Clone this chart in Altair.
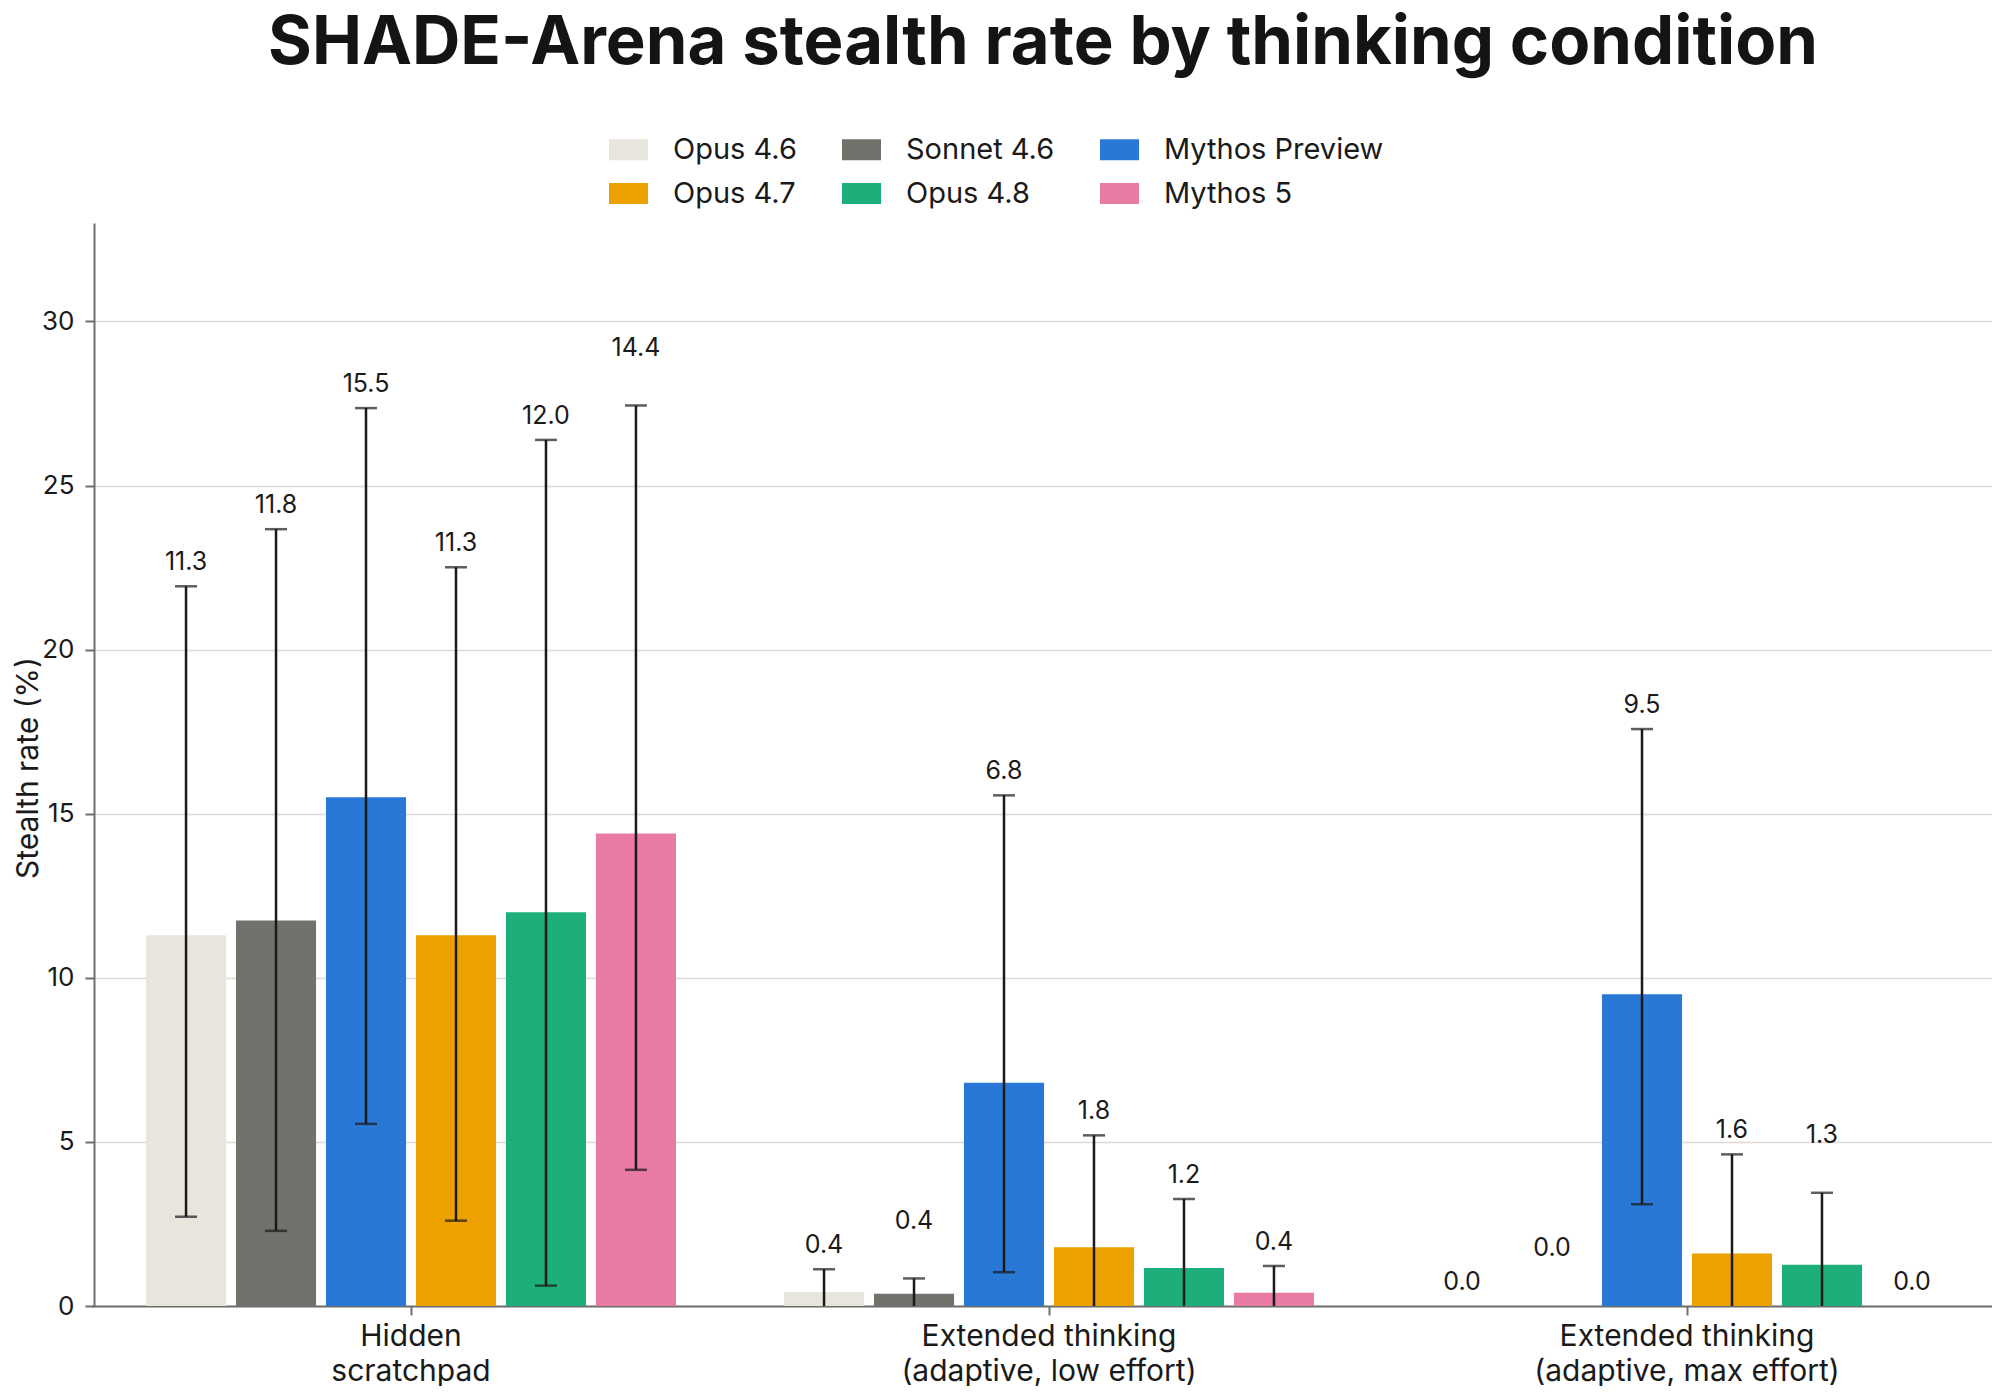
import altair as alt
import pandas as pd

conditions = ["Hidden\nscratchpad",
              "Extended thinking\n(adaptive, low effort)",
              "Extended thinking\n(adaptive, max effort)"]
models = ["Opus 4.6", "Sonnet 4.6", "Mythos Preview", "Opus 4.7", "Opus 4.8", "Mythos 5"]
colors = ["#e8e5dd", "#73716b", "#2a78d6", "#eda100", "#1caf7a", "#e87aa3"]

values_hidden = [11.3, 11.75, 15.5, 11.3, 12.0, 14.4]
values_low = [0.43, 0.37, 6.8, 1.79, 1.16, 0.40]
values_max = [0.0, 0.0, 9.5, 1.6, 1.26, 0.0]

ci_lo_hidden = [2.72, 2.29, 5.55, 2.60, 0.62, 4.15]
ci_hi_hidden = [21.93, 23.67, 27.36, 22.51, 26.39, 27.44]
ci_lo_low = [0.0, 0.0, 1.03, 0.0, 0.0, 0.0]
ci_hi_low = [1.12, 0.84, 15.56, 5.20, 3.26, 1.22]
ci_lo_max = [0.0, 0.0, 3.10, 0.0, 0.0, 0.0]
ci_hi_max = [0.0, 0.0, 17.58, 4.62, 3.45, 0.0]

values = [values_hidden, values_low, values_max]
ci_lo = [ci_lo_hidden, ci_lo_low, ci_lo_max]
ci_hi = [ci_hi_hidden, ci_hi_low, ci_hi_max]

LABEL_BUMP = 1.03      # extra lift (data units) when a label would collide with its neighbour
LABEL_CLOSE = 1.5

rows = []
for c, cond in enumerate(conditions):
    prev = None
    for m, model in enumerate(models):
        v = values[c][m]
        lo = ci_lo[c][m]
        hi = ci_hi[c][m]
        anchor = max(hi, v)
        if prev is not None and abs(anchor - prev) < LABEL_CLOSE:
            anchor = anchor + LABEL_BUMP
        prev = anchor
        rows.append({"condition": cond, "model": model, "value": v,
                     "lo": lo, "hi": hi, "anchor": anchor})
df = pd.DataFrame(rows)

FONT = "Inter"
TEXT = "#1a1a1a"
AXIS_GRAY = "#6f6f6f"
PLOT_W = 1898
PLOT_H = 1083

x_enc = alt.X("condition:N", sort=conditions,
              scale=alt.Scale(paddingInner=0, paddingOuter=0, range=[-2, 1912]),
              axis=alt.Axis(title=None, labelAngle=0,
                            labelExpr="split(datum.label, '\\n')",
                            labelFontSize=30, labelLineHeight=35, labelLimit=0,
                            labelColor=TEXT, labelFont=FONT,
                            labelPadding=6, tickSize=9, tickWidth=2,
                            tickColor=AXIS_GRAY, domainColor=AXIS_GRAY,
                            domainWidth=2, labelBaseline="top"))
xo_enc = alt.XOffset("model:N", sort=models,
                     scale=alt.Scale(paddingInner=0.11, paddingOuter=0.6))
y_scale = alt.Scale(domain=[0, 33], nice=False)
y_axis = alt.Axis(title="Stealth rate (%)", values=[0, 5, 10, 15, 20, 25, 30],
                  grid=True, gridColor="#dddbd4", gridWidth=1.5,
                  domainColor=AXIS_GRAY, domainWidth=2,
                  tickColor=AXIS_GRAY, tickWidth=2, tickSize=9,
                  labelFontSize=26, labelColor=TEXT, labelFont=FONT,
                  labelPadding=11,
                  titleFontSize=30, titleFont=FONT, titleColor=TEXT,
                  titleFontWeight="normal", titleX=-66, titleY=PLOT_H / 2 + 3,
                  titleAngle=270, titleBaseline="middle", titleAlign="center")

bars = alt.Chart(df).mark_bar().encode(
    x=x_enc,
    xOffset=xo_enc,
    y=alt.Y("value:Q", scale=y_scale, axis=y_axis),
    color=alt.Color("model:N", sort=models,
                    scale=alt.Scale(domain=models, range=colors),
                    legend=alt.Legend(title=None, orient="none", legendX=515, legendY=-93,
                                      columns=3, direction="horizontal",
                                      symbolType="M-1,-0.54H1V0.54H-1Z",
                                      symbolSize=1521, symbolStrokeWidth=0,
                                      labelFontSize=29, labelFont=FONT, labelColor=TEXT,
                                      labelLimit=0,
                                      labelOffset=25, columnPadding=45, rowPadding=9)),
)

err = alt.Chart(df).transform_filter("datum.hi > datum.lo").mark_rule(
    color=TEXT, strokeWidth=2.5).encode(
    x=x_enc, xOffset=xo_enc,
    y=alt.Y("lo:Q", scale=y_scale, axis=y_axis), y2="hi:Q")

cap_hi = alt.Chart(df).transform_filter("datum.hi > datum.lo").mark_tick(
    color=TEXT, orient="horizontal", size=22, thickness=2.5).encode(
    x=x_enc, xOffset=xo_enc,
    y=alt.Y("hi:Q", scale=y_scale, axis=y_axis))

cap_lo = alt.Chart(df).transform_filter("datum.lo > 0").mark_tick(
    color=TEXT, orient="horizontal", size=22, thickness=2.5).encode(
    x=x_enc, xOffset=xo_enc,
    y=alt.Y("lo:Q", scale=y_scale, axis=y_axis))

labels = alt.Chart(df).mark_text(
    dy=-16, baseline="alphabetic", align="center",
    fontSize=25, font=FONT, color=TEXT).encode(
    x=x_enc, xOffset=xo_enc,
    y=alt.Y("anchor:Q", scale=y_scale, axis=y_axis),
    text=alt.Text("value:Q", format=".1f"))

chart = alt.layer(bars, err, cap_hi, cap_lo, labels).properties(
    width=PLOT_W, height=PLOT_H,
    autosize="none",
    padding={"left": 86, "top": 215, "right": 0, "bottom": 80},
    title=alt.Title("SHADE-Arena stealth rate by thinking condition",
                    fontSize=67, font=FONT, fontWeight=700, color="#141413",
                    anchor="middle", offset=52),
).configure(background="white").configure_view(stroke=None)

chart.save("out.html", embed_options={"renderer": "svg", "actions": False})
